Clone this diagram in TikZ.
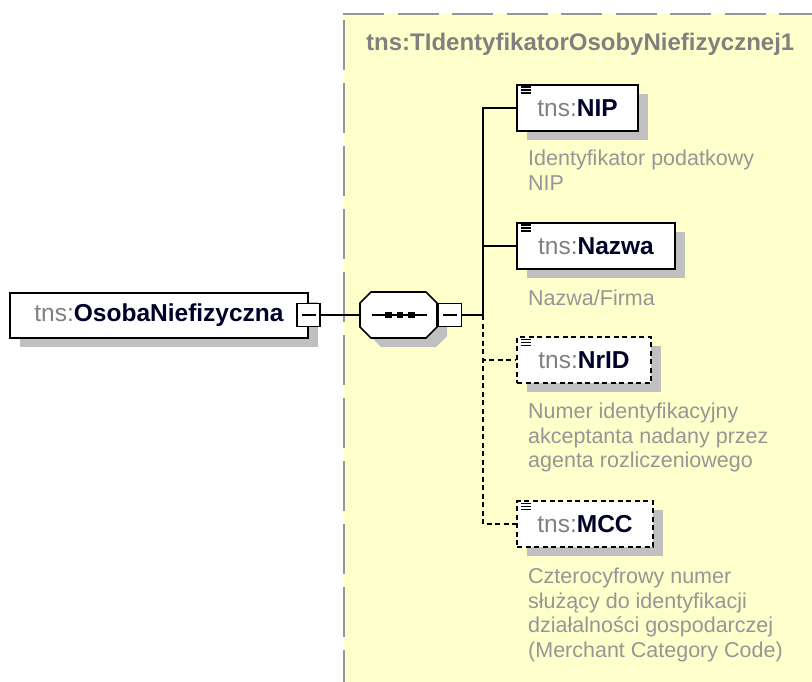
\documentclass[tikz,border=0pt]{standalone}
\usepackage{fontspec}
\setmainfont{Liberation Sans}
\usetikzlibrary{shadows,calc}
\definecolor{schemabg}{RGB}{255,255,204}
\definecolor{shadowgray}{RGB}{192,192,192}
\definecolor{nsgray}{RGB}{128,128,128}
\definecolor{namenavy}{RGB}{0,0,40}
\definecolor{docgray}{RGB}{150,150,150}
\definecolor{framegray}{RGB}{150,150,150}
\newcommand{\elname}[1]{{\color{nsgray}tns:}{\bfseries\color{namenavy}#1}}
\newcommand{\listicon}[1]{
    \foreach \k in {0,1,2}{
    \draw[line width=1.4pt] ($(#1.north west)+(5,3+3*\k)$)--++(10,0);
    }
}
\newcommand{\seqoutline}{(371,292)--(426,292)--(437,303)--(437,327)--(426,338)--(371,338)--(360,327)--(360,303)--cycle}
\tikzset{
  elem/.style={draw, line width=1.6pt, fill=white, minimum height=46pt, inner sep=0pt,
    font=\fontsize{24.5}{29}\selectfont,
    copy shadow={shadow xshift=10pt, shadow yshift=-9pt, fill=shadowgray, draw=none}},
  optelem/.style={elem, dash pattern=on 5pt off 3.5pt},
  minusbox/.style={draw, line width=1.6pt, fill=white, minimum size=23pt, inner sep=0pt},
  docnote/.style={anchor=north west, inner sep=0pt, align=left, text=docgray,
    font=\fontsize{21.5}{24.5}\selectfont},
  link/.style={line width=1.6pt},
  optlink/.style={link, dash pattern=on 5pt off 3.5pt}
}

\begin{document}
\begin{tikzpicture}[x=1pt,y=-1pt]
\useasboundingbox (0,0) rectangle (812,682);
% complex type area
\fill[schemabg] (344,14) rectangle (812,682);
\draw[framegray, line width=2pt, dash pattern=on 41pt off 13.5pt] (343,14)--(812,14);
\draw[framegray, line width=2pt, dash pattern=on 50pt off 13pt] (344,20)--(344,682);
\node[anchor=north west, inner sep=0pt, text=nsgray, font=\fontsize{24}{28}\selectfont\bfseries]
  (typename) at (366,33) {tns:TIdentyfikatorOsobyNiefizycznej1};
% root element
\node[elem, minimum width=298pt, minimum height=45pt] (osoba) at (159,315.5) {\elname{OsobaNiefizyczna}};
\node[minusbox] (osobaminus) at (308.5,315) {};
\draw[link] ([xshift=-7pt]osobaminus.center)--([xshift=7pt]osobaminus.center);
% sequence compositor
\begin{scope}[shift={(10,9)}]
  \fill[shadowgray] \seqoutline;
\end{scope}
\draw[line width=1.6pt, fill=white] \seqoutline;
\node[minimum width=77pt, minimum height=46pt, inner sep=0pt] (seq) at (398.5,315) {};
\draw[link] ([xshift=-27pt]seq.center)--([xshift=28pt]seq.center);
\foreach \d in {-10,1.5,13}{
  \fill ($(seq.center)+(\d,0)$) +(-3.2,-3.2) rectangle +(3.2,3.2);
}
\node[minusbox] (seqminus) at (450,315) {};
\draw[link] ([xshift=-7pt]seqminus.center)--([xshift=7pt]seqminus.center);
\draw[link] (osobaminus)--(seq);
% children
\node[elem, minimum width=121pt] (nip) at (577.5,108) {\elname{NIP}};
\node[elem, minimum width=158pt] (nazwa) at (596,246) {\elname{Nazwa}};
\node[optelem, minimum width=134pt] (nrid) at (584,360) {\elname{NrID}};
\node[optelem, minimum width=136pt] (mcc) at (585,524) {\elname{MCC}};
\listicon{nip}\listicon{nazwa}\listicon{nrid}\listicon{mcc}
\coordinate (fork) at (483,315);
\draw[link] (seqminus)--(fork);
\draw[link] (fork) |- (nip);
\draw[link] (fork) |- (nazwa);
\draw[optlink] (fork) |- (nrid);
\draw[optlink] (fork) |- (mcc);
% annotations
\node[docnote] (nipdoc) at (528,150) {Identyfikator podatkowy\\NIP};
\node[docnote] (nazwadoc) at (528,290) {Nazwa/Firma};
\node[docnote] (nriddoc) at (528,403) {Numer identyfikacyjny\\akceptanta nadany przez\\agenta rozliczeniowego};
\node[docnote] (mccdoc) at (528,568) {Czterocyfrowy numer\\służący do identyfikacji\\działalności gospodarczej\\(Merchant Category Code)};
\end{tikzpicture}
\end{document}
